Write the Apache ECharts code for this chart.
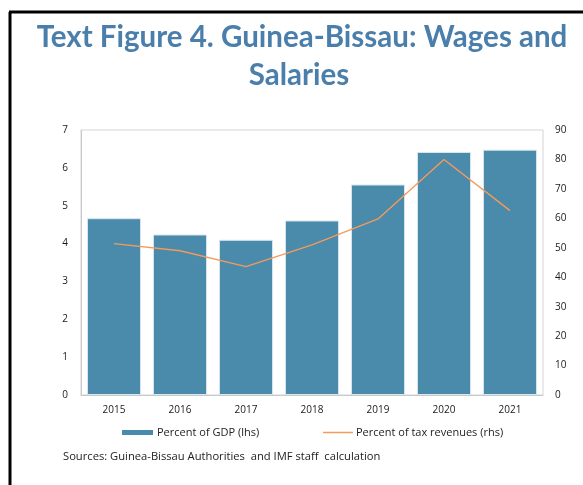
<!DOCTYPE html>
<html>
<head>
<meta charset="utf-8">
<script src="https://cdn.jsdelivr.net/npm/echarts@6/dist/echarts.min.js"></script>
<style>
  html, body { margin: 0; padding: 0; background: #ffffff; }
  #chart { width: 583px; height: 485px; }
</style>
</head>
<body>
<div id="chart"></div>
<script>
// Wages and salaries, Guinea-Bissau
const years = ['2015', '2016', '2017', '2018', '2019', '2020', '2021'];
const pctGdp = [4.67, 4.24, 4.10, 4.61, 5.56, 6.42, 6.48];           // left axis
const pctTaxRevenues = [51.4, 49.0, 43.6, 51.0, 59.8, 80.0, 62.6];  // right axis

const titleLines = ['Text Figure 4. Guinea-Bissau: Wages and', 'Salaries'];
const sourceNote = 'Sources: Guinea-Bissau Authorities  and IMF staff  calculation';

const labelFont = '"Open Sans", sans-serif';
const titleColor = '#4a7eab';
const barColor = '#4a8aab';
const lineColor = '#f59a5c';

const chart = echarts.init(document.getElementById('chart'), null, { renderer: 'canvas' });

chart.setOption({
  backgroundColor: '#ffffff',
  animation: false,
  graphic: [
    { type: 'line', shape: { x1: 10, y1: 12, x2: 10, y2: 485 }, style: { stroke: '#000', lineWidth: 3 } },
    { type: 'line', shape: { x1: 9, y1: 12, x2: 583, y2: 12 }, style: { stroke: '#000', lineWidth: 3 } },
    {
      type: 'text', x: 302, y: 37,
      style: {
        text: titleLines[0], textAlign: 'center', textVerticalAlign: 'middle',
        font: 'bold 29.5px Lato, sans-serif', fill: titleColor
      }
    },
    {
      type: 'text', x: 299, y: 75,
      style: {
        text: titleLines[1], textAlign: 'center', textVerticalAlign: 'middle',
        font: 'bold 29.5px Lato, sans-serif', fill: titleColor
      }
    },
    {
      type: 'text', x: 63, y: 457,
      style: { text: sourceNote, textVerticalAlign: 'middle', font: '11.2px ' + labelFont, fill: '#222' }
    }
  ],
  legend: [
    {
      data: ['Percent of GDP (lhs)'],
      left: 122, top: 427, padding: 0,
      icon: 'rect', itemWidth: 31, itemHeight: 5,
      itemStyle: { borderWidth: 0 },
      textStyle: { fontFamily: labelFont, fontSize: 11, color: '#222', padding: [0, 0, 0, -1] }
    },
    {
      data: ['Percent of tax revenues (rhs)'],
      left: 323, top: 427, padding: 0,
      icon: 'rect', itemWidth: 30, itemHeight: 1.5,
      textStyle: { fontFamily: labelFont, fontSize: 11, color: '#222', padding: [0, 0, 0, -2] }
    }
  ],
  grid: {
    left: 81, right: 40, top: 130, bottom: 90,
    show: true, borderColor: '#d4d4d4', borderWidth: 1
  },
  xAxis: {
    type: 'category',
    data: years,
    axisLine: { lineStyle: { color: '#c8c8c8' } },
    axisTick: { show: false },
    axisLabel: { fontFamily: labelFont, fontSize: 10, color: '#1a1a1a', margin: 10 }
  },
  yAxis: [
    {
      type: 'value', min: 0, max: 7, interval: 1,
      splitLine: { show: false },
      axisLine: { show: true, lineStyle: { color: '#c8c8c8' } },
      axisTick: { show: false },
      axisLabel: { fontFamily: labelFont, fontSize: 10, color: '#1a1a1a', margin: 13 }
    },
    {
      type: 'value', min: 0, max: 90, interval: 10,
      splitLine: { show: false },
      axisLine: { show: false },
      axisTick: { show: false },
      axisLabel: { fontFamily: labelFont, fontSize: 10, color: '#1a1a1a', margin: 12 }
    }
  ],
  series: [
    {
      name: 'Percent of GDP (lhs)',
      type: 'bar',
      data: pctGdp,
      yAxisIndex: 0,
      barCategoryGap: '18%',
      itemStyle: { color: barColor, borderColor: '#d9e7ef', borderWidth: 1 }
    },
    {
      name: 'Percent of tax revenues (rhs)',
      type: 'line',
      data: pctTaxRevenues,
      yAxisIndex: 1,
      symbol: 'none',
      lineStyle: { color: lineColor, width: 1.4 },
      itemStyle: { color: lineColor }
    }
  ]
});
</script>
</body>
</html>
